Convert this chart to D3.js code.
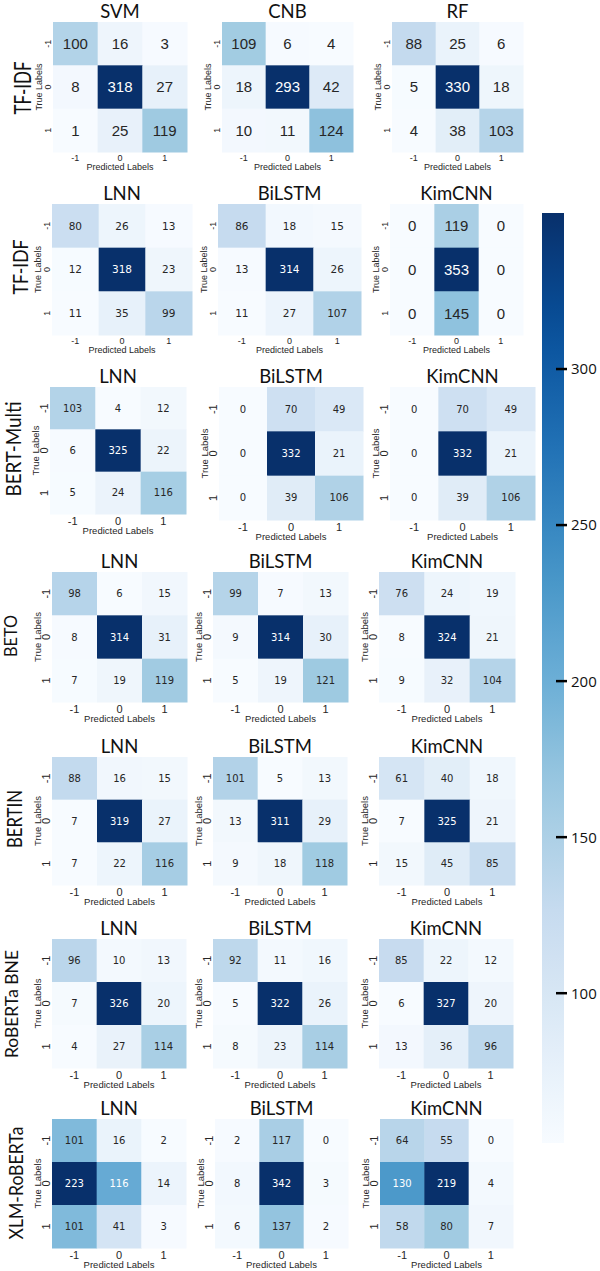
<!DOCTYPE html>
<html>
<head>
<meta charset="utf-8">
<script src="https://cdn.jsdelivr.net/npm/d3@7/dist/d3.min.js"></script>
<style>
  html, body { margin: 0; padding: 0; background: #fff; }
  svg { display: block; }
</style>
</head>
<body>
<svg id="chart" width="600" height="1271"></svg>
<script>
// ---------------- DATA ----------------
const rowLabels = ["TF-IDF", "TF-IDF", "BERT-Multi", "BETO", "BERTIN", "RoBERTa BNE", "XLM-RoBERTa"];
const panelTitles = [
  ["SVM", "CNB", "RF"],
  ["LNN", "BiLSTM", "KimCNN"],
  ["LNN", "BiLSTM", "KimCNN"],
  ["LNN", "BiLSTM", "KimCNN"],
  ["LNN", "BiLSTM", "KimCNN"],
  ["LNN", "BiLSTM", "KimCNN"],
  ["LNN", "BiLSTM", "KimCNN"]
];
const classLabels = ["-1", "0", "1"];

const cmTfidfClassic = [
  [[100, 16, 3], [8, 318, 27], [1, 25, 119]],
  [[109, 6, 4], [18, 293, 42], [10, 11, 124]],
  [[88, 25, 6], [5, 330, 18], [4, 38, 103]]
];
const cmTfidfNeural = [
  [[80, 26, 13], [12, 318, 23], [11, 35, 99]],
  [[86, 18, 15], [13, 314, 26], [11, 27, 107]],
  [[0, 119, 0], [0, 353, 0], [0, 145, 0]]
];
const cmBertMulti = [
  [[103, 4, 12], [6, 325, 22], [5, 24, 116]],
  [[0, 70, 49], [0, 332, 21], [0, 39, 106]],
  [[0, 70, 49], [0, 332, 21], [0, 39, 106]]
];
const cmBeto = [
  [[98, 6, 15], [8, 314, 31], [7, 19, 119]],
  [[99, 7, 13], [9, 314, 30], [5, 19, 121]],
  [[76, 24, 19], [8, 324, 21], [9, 32, 104]]
];
const cmBertin = [
  [[88, 16, 15], [7, 319, 27], [7, 22, 116]],
  [[101, 5, 13], [13, 311, 29], [9, 18, 118]],
  [[61, 40, 18], [7, 325, 21], [15, 45, 85]]
];
const cmRobertaBne = [
  [[96, 10, 13], [7, 326, 20], [4, 27, 114]],
  [[92, 11, 16], [5, 322, 26], [8, 23, 114]],
  [[85, 22, 12], [6, 327, 20], [13, 36, 96]]
];
const cmXlmRoberta = [
  [[101, 16, 2], [223, 116, 14], [101, 41, 3]],
  [[2, 117, 0], [8, 342, 3], [6, 137, 2]],
  [[64, 55, 0], [130, 219, 4], [58, 80, 7]]
];
const colorbarTicks = [100, 150, 200, 250, 300];
const colorbarRange = [52, 350];

const matrices = [cmTfidfClassic, cmTfidfNeural, cmBertMulti, cmBeto, cmBertin, cmRobertaBne, cmXlmRoberta];

// ---------------- LAYOUT / STYLE ----------------
// panel frames [x0, x1, y0, y1]
const panelBoxes = [
  [[53, 187, 22, 152], [222, 353, 22, 152], [392, 523, 22, 152]],
  [[52, 192, 204, 335], [218, 361, 204, 335], [390, 523, 204, 335]],
  [[50, 186, 387, 514], [219, 363, 387, 520], [390, 535, 387, 520]],
  [[52, 187, 572, 702], [213, 348, 572, 702], [379, 515, 572, 702]],
  [[52, 187, 757, 885], [213, 347, 757, 885], [379, 515, 757, 885]],
  [[52, 186, 939, 1068], [213, 347, 939, 1068], [379, 513, 939, 1068]],
  [[52, 186, 1119, 1248], [215, 348, 1119, 1248], [380, 513, 1119, 1248]]
];
// row label: baseline x, center y, length, font size
const rowLabelStyle = [
  [31, 88, 53, 24], [28, 267, 55, 22], [21, 449, 95, 21], [17, 636, 42, 17],
  [22, 819, 58, 21], [18, 1004, 108, 17], [23, 1183, 113, 20]
];
const ARIAL = "'Liberation Sans', Arial, sans-serif";
const DEJAVU = "'DejaVu Sans', sans-serif";
const TITLEF = "Lato, 'Open Sans', sans-serif";

function numStyle(r, c) {
  if (r === 0) return { font: ARIAL, size: 15 };
  if (r === 1 && c === 2) return { font: ARIAL, size: 15 };
  if (r === 1) return { font: DEJAVU, size: 10.5 };
  return { font: DEJAVU, size: 10 };
}
function tickStyle(r) {
  if (r <= 1) return { size: 9, dy: 8.5, labDy: 17.5, labSize: 9 };
  return { size: 11, dy: 10.5, labDy: 20, labSize: 9.5 };
}

const BLUES = ["#f7fbff", "#deebf7", "#c6dbef", "#9ecae1", "#6baed6", "#4292c6", "#2171b5", "#08519c", "#08306b"];
const blues = d3.scaleLinear().domain(d3.range(BLUES.length).map(i => i / (BLUES.length - 1))).range(BLUES).interpolate(d3.interpolateRgb).clamp(true);

function luminance(c) {
  const rgb = d3.rgb(c);
  const f = x => { x /= 255; return x <= 0.03928 ? x / 12.92 : Math.pow((x + 0.055) / 1.055, 2.4); };
  return 0.2126 * f(rgb.r) + 0.7152 * f(rgb.g) + 0.0722 * f(rgb.b);
}

const svg = d3.select("#chart");

matrices.forEach((rowMats, r) => {
  // row label
  const rl = rowLabelStyle[r];
  svg.append("text")
    .attr("transform", `translate(${rl[0]},${rl[1]}) rotate(-90)`)
    .attr("text-anchor", "middle")
    .attr("font-family", TITLEF)
    .attr("font-size", rl[3])
    .attr("textLength", rl[2])
    .attr("lengthAdjust", "spacingAndGlyphs")
    .attr("fill", "#111")
    .text(rowLabels[r]);

  rowMats.forEach((mat, c) => {
    const [x0, x1, y0, y1] = panelBoxes[r][c];
    const g = svg.append("g");
    const xs = d3.scaleBand().domain(classLabels).range([x0, x1]);
    const ys = d3.scaleBand().domain(classLabels).range([y0, y1]);
    const ext = d3.extent(mat.flat());
    const norm = d3.scaleLinear().domain(ext).range([0, 1]);
    const cells = [];
    mat.forEach((row, i) => row.forEach((v, j) => cells.push({ t: classLabels[i], p: classLabels[j], v })));
    const ns = numStyle(r, c);

    g.selectAll("rect").data(cells).enter().append("rect")
      .attr("x", d => xs(d.p))
      .attr("y", d => ys(d.t))
      .attr("width", xs.bandwidth() + 0.5)
      .attr("height", ys.bandwidth() + 0.5)
      .attr("fill", d => blues(norm(d.v)));

    g.selectAll("text.num").data(cells).enter().append("text")
      .attr("class", "num")
      .attr("x", d => xs(d.p) + xs.bandwidth() / 2)
      .attr("y", d => ys(d.t) + ys.bandwidth() / 2)
      .attr("dy", "0.36em")
      .attr("text-anchor", "middle")
      .attr("font-family", ns.font)
      .attr("font-size", ns.size)
      .attr("fill", d => luminance(blues(norm(d.v))) < 0.408 ? "#ffffff" : "#262626")
      .text(d => d.v);

    // title
    svg.append("text")
      .attr("x", (x0 + x1) / 2)
      .attr("y", y0 - 4)
      .attr("text-anchor", "middle")
      .attr("font-family", TITLEF)
      .attr("font-size", 18.5)
      .attr("fill", "#111")
      .text(panelTitles[r][c]);

    const ts = tickStyle(r);
    // x tick labels
    g.selectAll("text.xt").data(classLabels).enter().append("text")
      .attr("class", "xt")
      .attr("x", d => xs(d) + xs.bandwidth() / 2)
      .attr("y", y1 + ts.dy)
      .attr("text-anchor", "middle")
      .attr("font-family", ARIAL)
      .attr("font-size", ts.size)
      .attr("fill", "#262626")
      .text(d => d);
    g.append("text")
      .attr("x", (x0 + x1) / 2)
      .attr("y", y1 + ts.labDy)
      .attr("text-anchor", "middle")
      .attr("font-family", ARIAL)
      .attr("font-size", ts.labSize)
      .attr("fill", "#262626")
      .text("Predicted Labels");

    // y tick labels (rotated)
    g.selectAll("text.yt").data(classLabels).enter().append("text")
      .attr("class", "yt")
      .attr("transform", d => `translate(${x0 - 2},${ys(d) + ys.bandwidth() / 2}) rotate(-90)`)
      .attr("text-anchor", "middle")
      .attr("font-family", ARIAL)
      .attr("font-size", ts.size)
      .attr("fill", "#262626")
      .text(d => d);
    g.append("text")
      .attr("transform", `translate(${x0 - 11},${(y0 + y1) / 2}) rotate(-90)`)
      .attr("text-anchor", "middle")
      .attr("font-family", ARIAL)
      .attr("font-size", ts.labSize)
      .attr("fill", "#262626")
      .text("True Labels");
  });
});

// ---------------- COLORBAR ----------------
const cbX = 542, cbW = 22;
const cbScale = d3.scaleLinear().domain(colorbarRange).range([1143, 213]);
const defs = svg.append("defs");
const grad = defs.append("linearGradient").attr("id", "cbgrad")
  .attr("x1", 0).attr("y1", 1).attr("x2", 0).attr("y2", 0);
d3.range(0, 1.0001, 0.05).forEach(t => {
  grad.append("stop").attr("offset", t).attr("stop-color", blues(t));
});
svg.append("rect")
  .attr("x", cbX).attr("y", cbScale(colorbarRange[1]))
  .attr("width", cbW).attr("height", cbScale(colorbarRange[0]) - cbScale(colorbarRange[1]))
  .attr("fill", "url(#cbgrad)");

const cbAxis = svg.append("g");
cbAxis.selectAll("line").data(colorbarTicks).enter().append("line")
  .attr("x1", cbX + 14).attr("x2", cbX + 25)
  .attr("y1", d => cbScale(d)).attr("y2", d => cbScale(d))
  .attr("stroke", "#000").attr("stroke-width", 2.5);
cbAxis.selectAll("text").data(colorbarTicks).enter().append("text")
  .attr("x", cbX + 29)
  .attr("y", d => cbScale(d))
  .attr("dy", "0.36em")
  .attr("font-family", "'Open Sans', sans-serif")
  .attr("font-size", 15)
  .attr("fill", "#111")
  .text(d => d);
</script>
</body>
</html>
